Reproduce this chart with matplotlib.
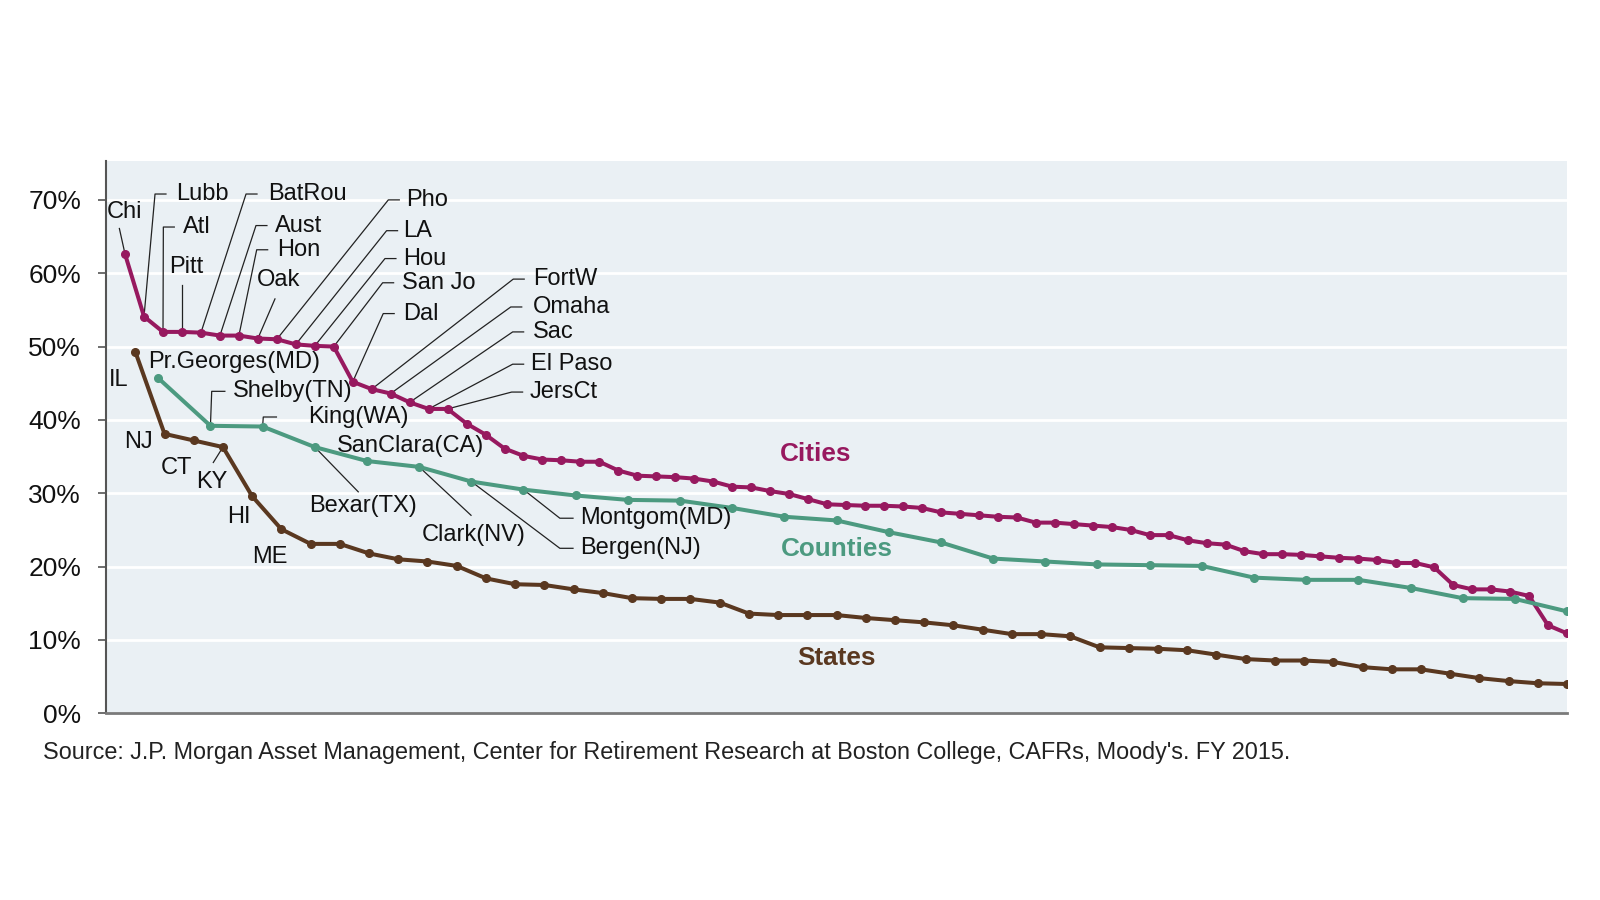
import numpy as np
import matplotlib
matplotlib.use("Agg")
from matplotlib import pyplot as plt

plt.rcParams['font.family'] = ['Liberation Sans', 'DejaVu Sans']

# pension contribution share (%), sorted high -> low
cities = [62.6, 54.1, 52.0, 52.0, 51.9, 51.5, 51.5, 51.1, 51.0, 50.3,
          50.1, 50.0, 45.2, 44.2, 43.6, 42.4, 41.5, 41.5, 39.5, 38.0,
          36.1, 35.1, 34.6, 34.5, 34.3, 34.3, 33.1, 32.4, 32.3, 32.2,
          32.0, 31.6, 30.9, 30.8, 30.3, 29.9, 29.2, 28.5, 28.4, 28.3,
          28.3, 28.2, 28.0, 27.4, 27.2, 27.0, 26.8, 26.7, 26.0, 26.0,
          25.8, 25.6, 25.4, 25.0, 24.3, 24.3, 23.6, 23.2, 23.0, 22.1,
          21.7, 21.7, 21.6, 21.4, 21.2, 21.1, 20.9, 20.5, 20.5, 19.9,
          17.5, 16.9, 16.9, 16.6, 16.0, 12.0, 10.9]
counties = [45.7, 39.2, 39.1, 36.3, 34.4, 33.6, 31.6, 30.5, 29.7, 29.1,
            29.0, 28.0, 26.8, 26.3, 24.7, 23.3, 21.1, 20.7, 20.3, 20.2,
            20.1, 18.5, 18.2, 18.2, 17.1, 15.7, 15.6, 13.9]
states = [49.3, 38.1, 37.2, 36.3, 29.6, 25.1, 23.1, 23.1, 21.8, 21.0,
          20.7, 20.1, 18.4, 17.6, 17.5, 16.9, 16.4, 15.7, 15.6, 15.6,
          15.1, 13.6, 13.4, 13.4, 13.4, 13.0, 12.7, 12.4, 12.0, 11.4,
          10.8, 10.8, 10.5, 9.0, 8.9, 8.8, 8.6, 8.0, 7.4, 7.2,
          7.2, 7.0, 6.3, 6.0, 6.0, 5.4, 4.8, 4.4, 4.1, 4.0]

series_names = ["Cities", "Counties", "States"]
yticks = [0, 10, 20, 30, 40, 50, 60, 70]

# labelled points: (name, rank)
city_names = [("Chi", 1), ("Lubb", 2), ("Atl", 3), ("Pitt", 4), ("BatRou", 5),
              ("Aust", 6), ("Hon", 7), ("Oak", 8), ("Pho", 9), ("LA", 10),
              ("Hou", 11), ("San Jo", 12), ("Dal", 13), ("FortW", 14),
              ("Omaha", 15), ("Sac", 16), ("El Paso", 17), ("JersCt", 18)]
county_names = [("Pr.Georges(MD)", 1), ("Shelby(TN)", 2), ("King(WA)", 3),
                ("Bexar(TX)", 4), ("SanClara(CA)", 5), ("Clark(NV)", 6),
                ("Bergen(NJ)", 7), ("Montgom(MD)", 8)]
state_names = [("IL", 1), ("NJ", 2), ("CT", 3), ("KY", 4), ("HI", 5), ("ME", 6)]

colors = {"Cities": "#97195F", "Counties": "#4C9A80", "States": "#5A3820"}
bg = "#EAF0F4"

fig = plt.figure(figsize=(16, 9), dpi=100)
ax = fig.add_axes([0.0663, 0.2074, 0.9131, 0.6137])
ax.set_facecolor(bg)

data = {"Cities": cities, "Counties": counties, "States": states}
xs = {}
for name in series_names:
    vals = np.array(data[name])
    x = np.arange(1, len(vals) + 1) / len(vals)
    xs[name] = x
    ax.plot(x, vals, color=colors[name], lw=2.9, marker='o', ms=5.5, zorder=3)

ax.set_xlim(0, 1)
ax.set_ylim(0, 75.3)
ax.set_yticks(yticks)
ax.set_yticklabels([f"{t}%" for t in yticks], fontsize=19, color='#111111')
ax.set_xticks([])
ax.yaxis.grid(True, color='white', lw=2)
ax.set_axisbelow(True)
for s in ['top', 'right']:
    ax.spines[s].set_visible(False)
ax.spines['left'].set_color('#555555')
ax.spines['left'].set_linewidth(1.5)
ax.spines['bottom'].set_color('#7a7a7a')
ax.spines['bottom'].set_linewidth(2)
ax.tick_params(axis='y', direction='out', length=6, width=1.2, color='#555555', pad=12)

fs = 17
lc = '#222222'
lw = 0.9
tc = '#111111'


def pt(series, rank):
    return xs[series][rank - 1], data[series][rank - 1]


def elbow(series, rank, label, ex, tx, ty, tick=0.0075):
    px, py = pt(series, rank)
    ax.plot([px, ex, ex + tick], [py, ty, ty], color=lc, lw=lw, zorder=2)
    ax.text(tx, ty, label, fontsize=fs, ha='left', va='center', color=tc)


def straight(series, rank, label, ex, ey, tx, ty):
    px, py = pt(series, rank)
    if ex is None:
        ex = px
    ax.plot([px, ex], [py, ey], color=lc, lw=lw, zorder=2)
    ax.text(tx, ty, label, fontsize=fs, ha='center', va='center', color=tc)


cn = dict((r, n) for n, r in city_names)
con = dict((r, n) for n, r in county_names)
sn = dict((r, n) for n, r in state_names)

# cities
straight("Cities", 1, cn[1], 0.0091, 66.1, 0.0126, 68.4)
straight("Cities", 4, cn[4], None, 58.4, 0.0552, 60.8)
straight("Cities", 8, cn[8], 0.1156, 56.5, 0.1179, 59.1)
city_layout = {2: (0.0335, 0.0478, 70.8), 3: (0.0392, 0.0524, 66.3),
               5: (0.0958, 0.1110, 70.8), 6: (0.1026, 0.1156, 66.5),
               7: (0.1031, 0.1168, 63.2), 9: (0.1932, 0.2053, 70.0),
               10: (0.1920, 0.2034, 65.8), 11: (0.1909, 0.2034, 62.0),
               12: (0.1893, 0.2023, 58.7), 13: (0.1897, 0.2030, 54.5),
               14: (0.2787, 0.2920, 59.2), 15: (0.2770, 0.2920, 55.4),
               16: (0.2783, 0.2920, 52.0), 17: (0.2783, 0.2910, 47.6),
               18: (0.2776, 0.2900, 43.8)}
for r, (ex, tx, ty) in city_layout.items():
    elbow("Cities", r, cn[r], ex, tx, ty)

# counties
ax.text(0.0289, 47.95, con[1], fontsize=fs, ha='left', va='center', color=tc)
ax.text(0.1578, 36.45, con[5], fontsize=fs, ha='left', va='center', color=tc)
elbow("Counties", 2, con[2], 0.0723, 0.0871, 43.9, tick=0.009)
elbow("Counties", 3, con[3], 0.1076, 0.1384, 40.4, tick=0.009)
elbow("Counties", 8, con[8], 0.3106, 0.3244, 26.6, tick=0.009)
elbow("Counties", 7, con[7], 0.3106, 0.3244, 22.5, tick=0.009)
straight("Counties", 4, con[4], 0.1726, 30.2, 0.1756, 28.25)
straight("Counties", 6, con[6], 0.2498, 27.0, 0.2518, 24.35)

# states
for r, (tx, ty) in {1: (0.0084, 45.5), 2: (0.0224, 37.0), 3: (0.0482, 33.4),
                    5: (0.0908, 26.7), 6: (0.1118, 21.3)}.items():
    ax.text(tx, ty, sn[r], fontsize=fs, ha='center', va='center', color=tc)
straight("States", 4, sn[4], 0.0734, 34.2, 0.0726, 31.6)

# series labels
for name, (tx, ty) in zip(series_names, [(0.4854, 35.3), (0.5001, 22.4), (0.5001, 7.5)]):
    ax.text(tx, ty, name, fontsize=18.8, fontweight='bold', color=colors[name],
            ha='center', va='center')

fig.text(0.027, 0.1644,
         "Source: J.P. Morgan Asset Management, Center for Retirement Research at Boston College, CAFRs, Moody's. FY 2015.",
         fontsize=16.8, ha='left', va='center', color='#222222')

fig.savefig("out.png", dpi=100)
